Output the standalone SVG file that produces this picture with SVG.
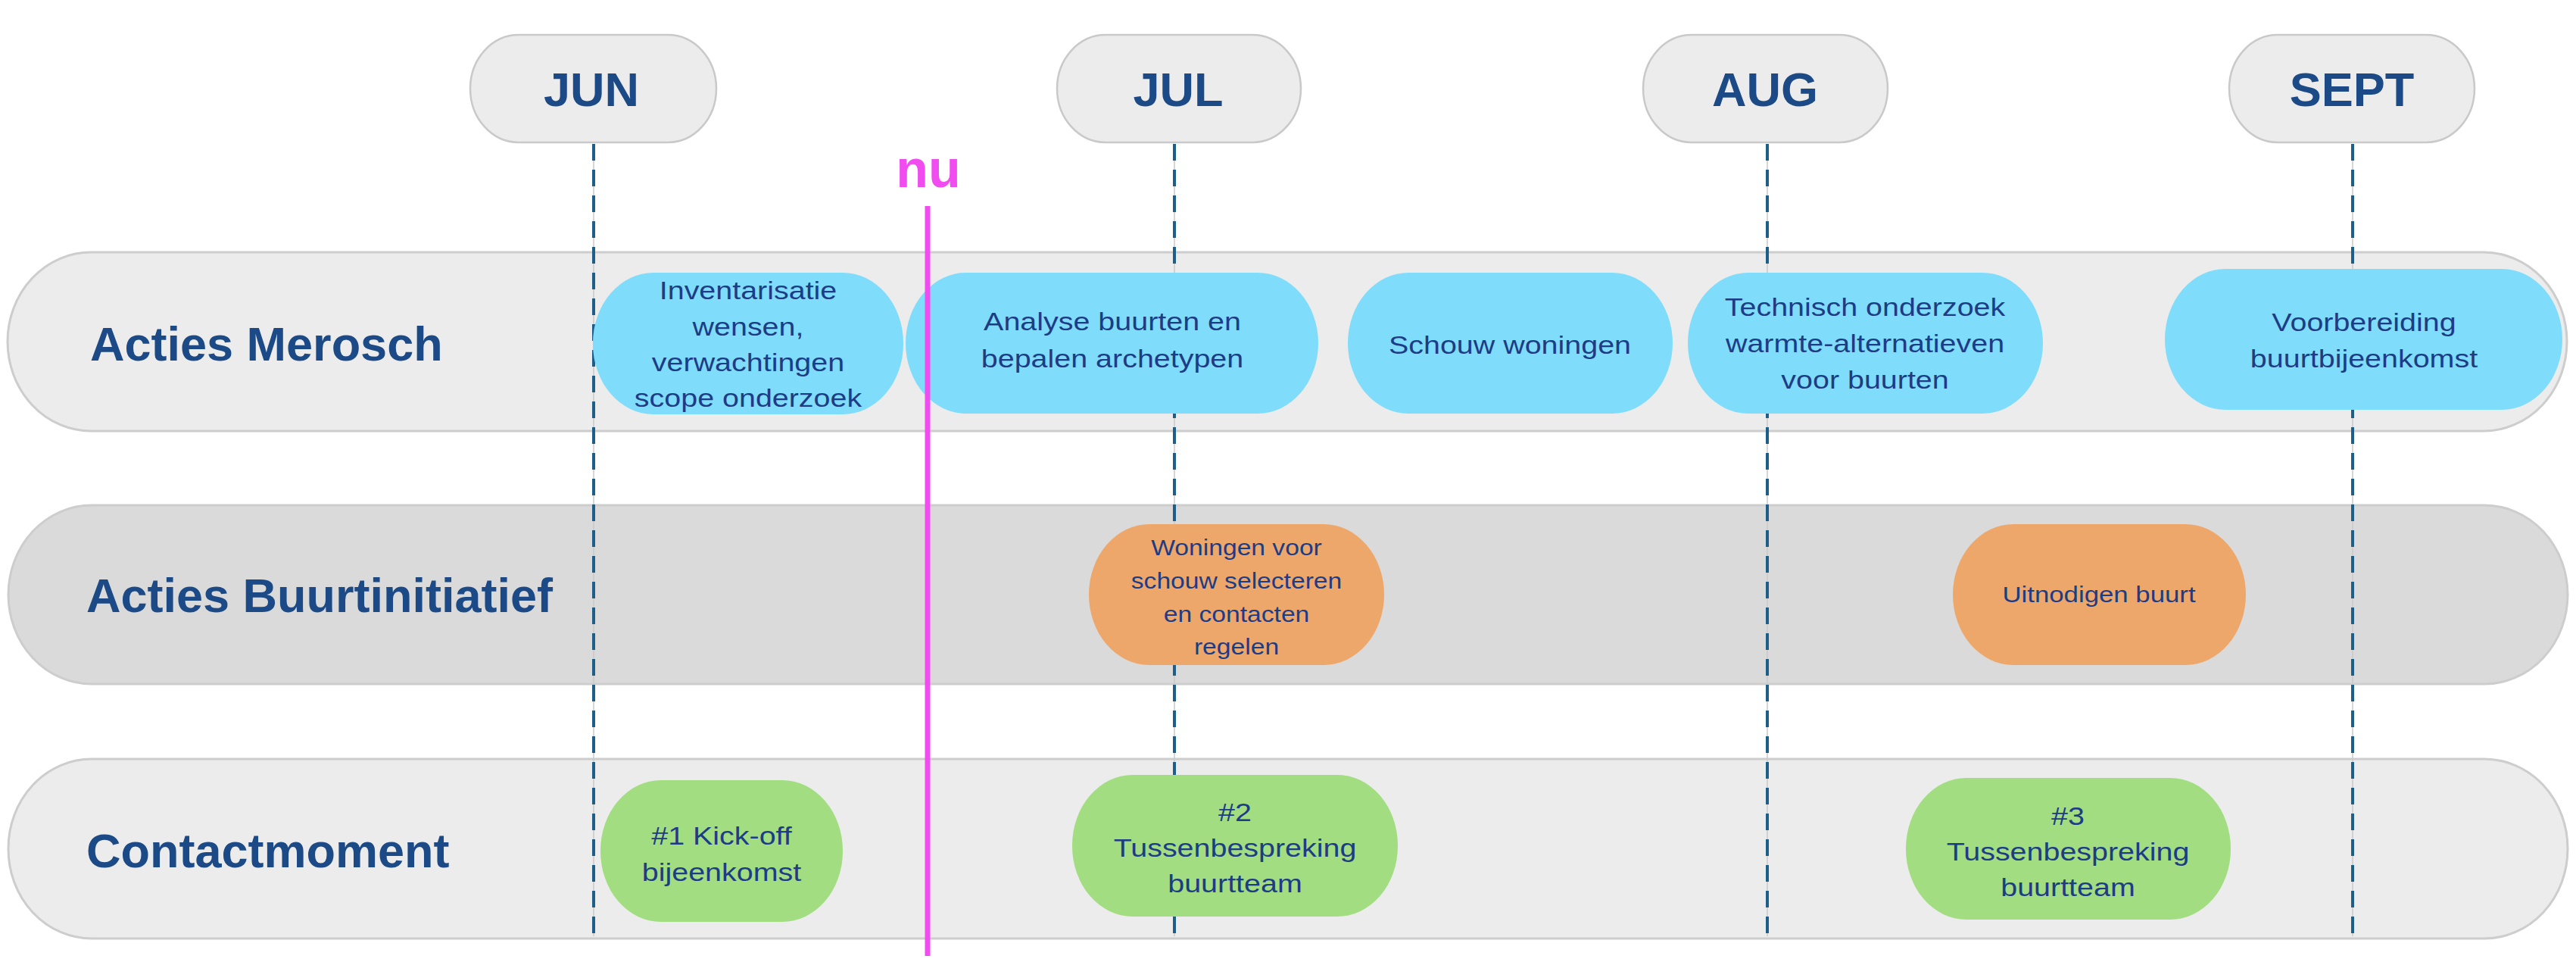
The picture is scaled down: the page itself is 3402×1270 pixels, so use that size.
<svg xmlns="http://www.w3.org/2000/svg" width="3402" height="1270" viewBox="0 0 3402 1270">
<style>
.lane1{fill:#ececec;stroke:#cdcdcd;stroke-width:3}
.lane2{fill:#dadada;stroke:#cdcdcd;stroke-width:3}
.month{fill:#ececec;stroke:#c9c9c9;stroke-width:2.5}
.lbl{font-family:"Liberation Sans",Arial,sans-serif;font-weight:bold;font-size:63px;fill:#1c4a87}
.mlbl{font-family:"Liberation Sans",Arial,sans-serif;font-weight:bold;font-size:63px;fill:#1c4a87;text-anchor:middle}
.nt{font-family:"Liberation Sans",Arial,sans-serif;font-size:34px;fill:#1d3c86;text-anchor:middle}
.blue{fill:#80dcfb}
.orange{fill:#eea76b}
.green{fill:#a2dd82}
.dash{stroke:#1d5f88;stroke-width:4;stroke-dasharray:22 12;fill:none}
.guide{stroke:#c8c8c8;stroke-width:1.5;fill:none}
</style>
<rect width="3402" height="1270" fill="#ffffff"/>

<g id="lane-merosch">
<rect class="lane1" x="10" y="333" width="3380" height="236" rx="110" ry="118"/>
<text class="lbl" x="119" y="476">Acties Merosch</text>
</g>
<g id="lane-buurtinitiatief">
<rect class="lane2" x="11" y="667" width="3380" height="236" rx="110" ry="118"/>
<text class="lbl" x="114" y="808">Acties Buurtinitiatief</text>
</g>
<g id="lane-contactmoment">
<rect class="lane1" x="11" y="1002" width="3380" height="237" rx="110" ry="118"/>
<text class="lbl" x="114" y="1145">Contactmoment</text>
</g>

<g id="connectors">
<line class="guide" x1="784" y1="190" x2="784" y2="1236"/>
<line class="guide" x1="1551" y1="190" x2="1551" y2="1236"/>
<line class="guide" x1="2334" y1="190" x2="2334" y2="1236"/>
<line class="guide" x1="3107" y1="190" x2="3107" y2="1236"/>
<line class="dash" x1="784" y1="190" x2="784" y2="1236"/>
<line class="dash" x1="1551" y1="190" x2="1551" y2="1236"/>
<line class="dash" x1="2334" y1="190" x2="2334" y2="1236"/>
<line class="dash" x1="3107" y1="190" x2="3107" y2="1236"/>
</g>

<g id="month-jun">
<rect class="month" x="621" y="46" width="325" height="142" rx="64" ry="71"/>
<text class="mlbl" x="781" y="140">JUN</text>
</g>
<g id="month-jul">
<rect class="month" x="1396" y="46" width="322" height="142" rx="64" ry="71"/>
<text class="mlbl" x="1556" y="140">JUL</text>
</g>
<g id="month-aug">
<rect class="month" x="2170" y="46" width="323" height="142" rx="64" ry="71"/>
<text class="mlbl" x="2331" y="140">AUG</text>
</g>
<g id="month-sept">
<rect class="month" x="2944" y="46" width="324" height="142" rx="64" ry="71"/>
<text class="mlbl" x="3106" y="140">SEPT</text>
</g>

<g id="node-inventarisatie">
<rect class="blue" x="783" y="360" width="410" height="187" rx="80" ry="93"/>
<text class="nt" transform="translate(988 0) scale(1.16 1)"><tspan x="0" y="395">Inventarisatie</tspan><tspan x="0" y="443">wensen,</tspan><tspan x="0" y="490">verwachtingen</tspan><tspan x="0" y="537">scope onderzoek</tspan></text>
</g>
<g id="node-analyse">
<rect class="blue" x="1196" y="360" width="545" height="186" rx="80" ry="93"/>
<text class="nt" transform="translate(1469 0) scale(1.16 1)"><tspan x="0" y="436">Analyse buurten en</tspan><tspan x="0" y="485">bepalen archetypen</tspan></text>
</g>
<g id="node-schouw">
<rect class="blue" x="1780" y="360" width="429" height="186" rx="80" ry="93"/>
<text class="nt" transform="translate(1994 0) scale(1.16 1)"><tspan x="0" y="467">Schouw woningen</tspan></text>
</g>
<g id="node-technisch">
<rect class="blue" x="2229" y="360" width="469" height="186" rx="80" ry="93"/>
<text class="nt" transform="translate(2463 0) scale(1.16 1)"><tspan x="0" y="417">Technisch onderzoek</tspan><tspan x="0" y="465">warmte-alternatieven</tspan><tspan x="0" y="513">voor buurten</tspan></text>
</g>
<g id="node-voorbereiding">
<rect class="blue" x="2859" y="355" width="525" height="186" rx="80" ry="93"/>
<text class="nt" transform="translate(3122 0) scale(1.16 1)"><tspan x="0" y="437">Voorbereiding</tspan><tspan x="0" y="485">buurtbijeenkomst</tspan></text>
</g>

<g id="node-woningen">
<rect class="orange" x="1438" y="692" width="390" height="186" rx="80" ry="93"/>
<text class="nt" style="font-size:29px" transform="translate(1633 0) scale(1.16 1)"><tspan x="0" y="733">Woningen voor</tspan><tspan x="0" y="777">schouw selecteren</tspan><tspan x="0" y="821">en contacten</tspan><tspan x="0" y="864">regelen</tspan></text>
</g>
<g id="node-uitnodigen">
<rect class="orange" x="2579" y="692" width="387" height="186" rx="80" ry="93"/>
<text class="nt" style="font-size:30px" transform="translate(2772 0) scale(1.16 1)"><tspan x="0" y="795">Uitnodigen buurt</tspan></text>
</g>

<g id="node-kickoff">
<rect class="green" x="793" y="1030" width="320" height="187" rx="80" ry="93"/>
<text class="nt" transform="translate(953 0) scale(1.16 1)"><tspan x="0" y="1115">#1 Kick-off</tspan><tspan x="0" y="1163">bijeenkomst</tspan></text>
</g>
<g id="node-tussen2">
<rect class="green" x="1416" y="1023" width="430" height="187" rx="80" ry="93"/>
<text class="nt" transform="translate(1631 0) scale(1.16 1)"><tspan x="0" y="1084">#2</tspan><tspan x="0" y="1131">Tussenbespreking</tspan><tspan x="0" y="1178">buurtteam</tspan></text>
</g>
<g id="node-tussen3">
<rect class="green" x="2517" y="1027" width="429" height="187" rx="80" ry="93"/>
<text class="nt" transform="translate(2731 0) scale(1.16 1)"><tspan x="0" y="1089">#3</tspan><tspan x="0" y="1136">Tussenbespreking</tspan><tspan x="0" y="1183">buurtteam</tspan></text>
</g>

<g id="nu-marker">
<line x1="1225" y1="272" x2="1225" y2="1262" stroke="#f04cf0" stroke-width="7"/>
<text x="1226" y="247" text-anchor="middle" style="font-family:'Liberation Sans',Arial,sans-serif;font-weight:bold;font-size:70px;fill:#f04cf0">nu</text>
</g>
</svg>
